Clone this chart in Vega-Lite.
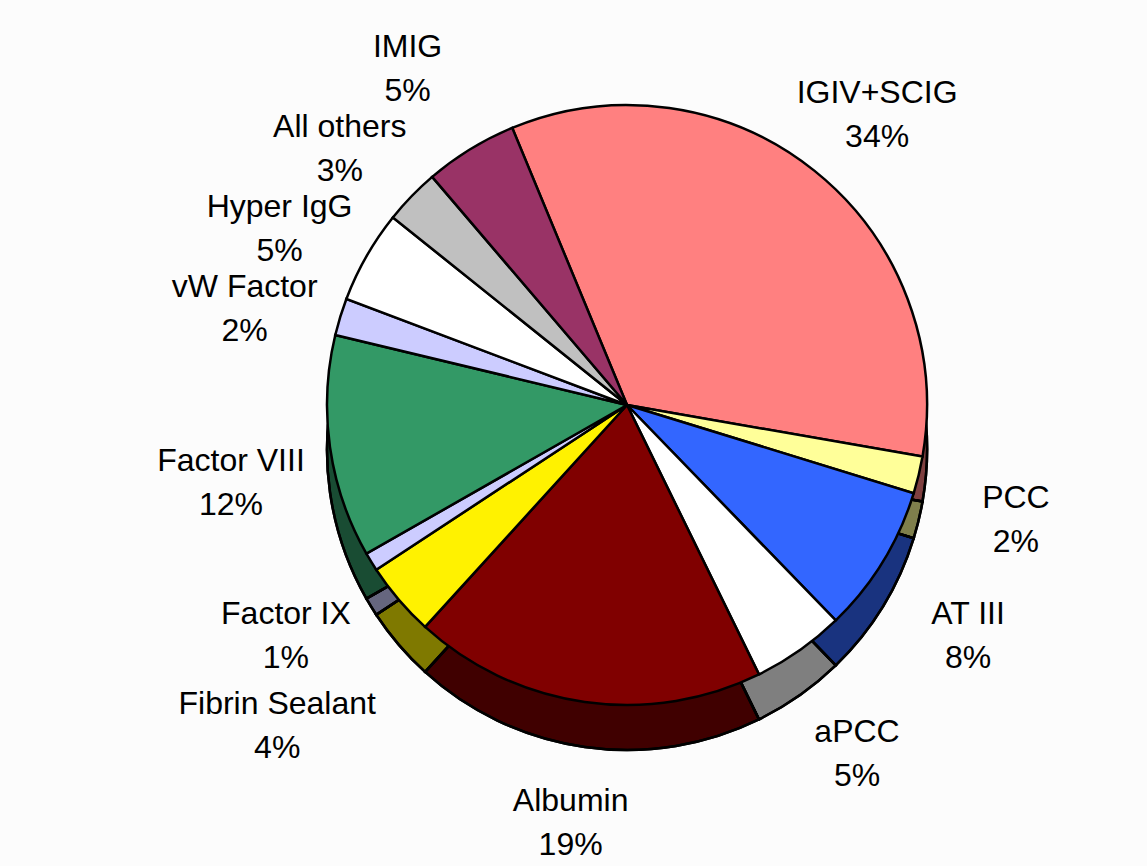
{
  "$schema": "https://vega.github.io/schema/vega-lite/v6.json",
  "autosize": {"type": "none"},
  "width": 1040,
  "height": 810,
  "padding": {"left": 107, "top": 0, "right": 0, "bottom": 56},
  "background": "#fcfcfc",
  "config": {"view": {"stroke": null}},
  "data": {
    "values": [
      {"order": 1, "name": "IGIV+SCIG", "share": 34, "caption": "IGIV+SCIG\n34%"},
      {"order": 2, "name": "PCC", "share": 2, "caption": "PCC\n2%"},
      {"order": 3, "name": "AT III", "share": 8, "caption": "AT III\n8%"},
      {"order": 4, "name": "aPCC", "share": 5, "caption": "aPCC\n5%"},
      {"order": 5, "name": "Albumin", "share": 19, "caption": "Albumin\n19%"},
      {"order": 6, "name": "Fibrin Sealant", "share": 4, "caption": "Fibrin Sealant\n4%"},
      {"order": 7, "name": "Factor IX", "share": 1, "caption": "Factor IX\n1%"},
      {"order": 8, "name": "Factor VIII", "share": 12, "caption": "Factor VIII\n12%"},
      {"order": 9, "name": "vW Factor", "share": 2, "caption": "vW Factor\n2%"},
      {"order": 10, "name": "Hyper IgG", "share": 5, "caption": "Hyper IgG\n5%"},
      {"order": 11, "name": "All others", "share": 3, "caption": "All others\n3%"},
      {"order": 12, "name": "IMIG", "share": 5, "caption": "IMIG\n5%"}
    ]
  },
  "encoding": {
    "theta": {"field": "share", "type": "quantitative", "stack": true, "scale": {"range": [-0.3927, 5.8905]}},
    "order": {"field": "order", "type": "quantitative", "sort": "ascending"}
  },
  "layer": [
    {
      "mark": {"type": "arc", "radius": 300, "yOffset": 45, "stroke": "#000000", "strokeWidth": 2.5},
      "encoding": {
        "color": {
          "field": "name", "type": "nominal", "legend": null,
          "scale": {
            "domain": ["IGIV+SCIG", "PCC", "AT III", "aPCC", "Albumin", "Fibrin Sealant", "Factor IX", "Factor VIII", "vW Factor", "Hyper IgG", "All others", "IMIG"],
            "range": ["#FF8080", "#FFFF99", "#3366FF", "#FFFFFF", "#800000", "#FFF200", "#CCCCFF", "#339966", "#CCCCFF", "#FFFFFF", "#C0C0C0", "#993366"]
          }
        }
      }
    },
    {
      "mark": {"type": "arc", "radius": 300, "yOffset": 45, "fill": "#000000", "fillOpacity": 0.5, "stroke": "#000000", "strokeWidth": 2.5},
      "encoding": {}
    },
    {
      "mark": {"type": "arc", "radius": 300, "stroke": "#000000", "strokeWidth": 2.5},
      "encoding": {
        "color": {"field": "name", "type": "nominal", "legend": null}
      }
    },
    {
      "mark": {"type": "text", "radius": 400, "font": "Liberation Sans", "fontSize": 32, "lineHeight": 44, "lineBreak": "\n", "align": "center", "baseline": "middle", "fill": "#000000"},
      "encoding": {
        "text": {"field": "caption", "type": "nominal"},
        "opacity": {"condition": {"test": "datum.name === 'Fibrin Sealant' || datum.name === 'IMIG'", "value": 0}, "value": 1}
      }
    },
    {
      "mark": {"type": "text", "radius": 460, "font": "Liberation Sans", "fontSize": 32, "lineHeight": 44, "lineBreak": "\n", "align": "center", "baseline": "middle", "fill": "#000000"},
      "encoding": {
        "text": {"field": "caption", "type": "nominal"},
        "opacity": {"condition": {"test": "datum.name === 'Fibrin Sealant'", "value": 1}, "value": 0}
      }
    },
    {
      "mark": {"type": "text", "radius": 420, "font": "Liberation Sans", "fontSize": 32, "lineHeight": 44, "lineBreak": "\n", "align": "center", "baseline": "middle", "fill": "#000000"},
      "encoding": {
        "text": {"field": "caption", "type": "nominal"},
        "opacity": {"condition": {"test": "datum.name === 'IMIG'", "value": 1}, "value": 0}
      }
    }
  ]
}
